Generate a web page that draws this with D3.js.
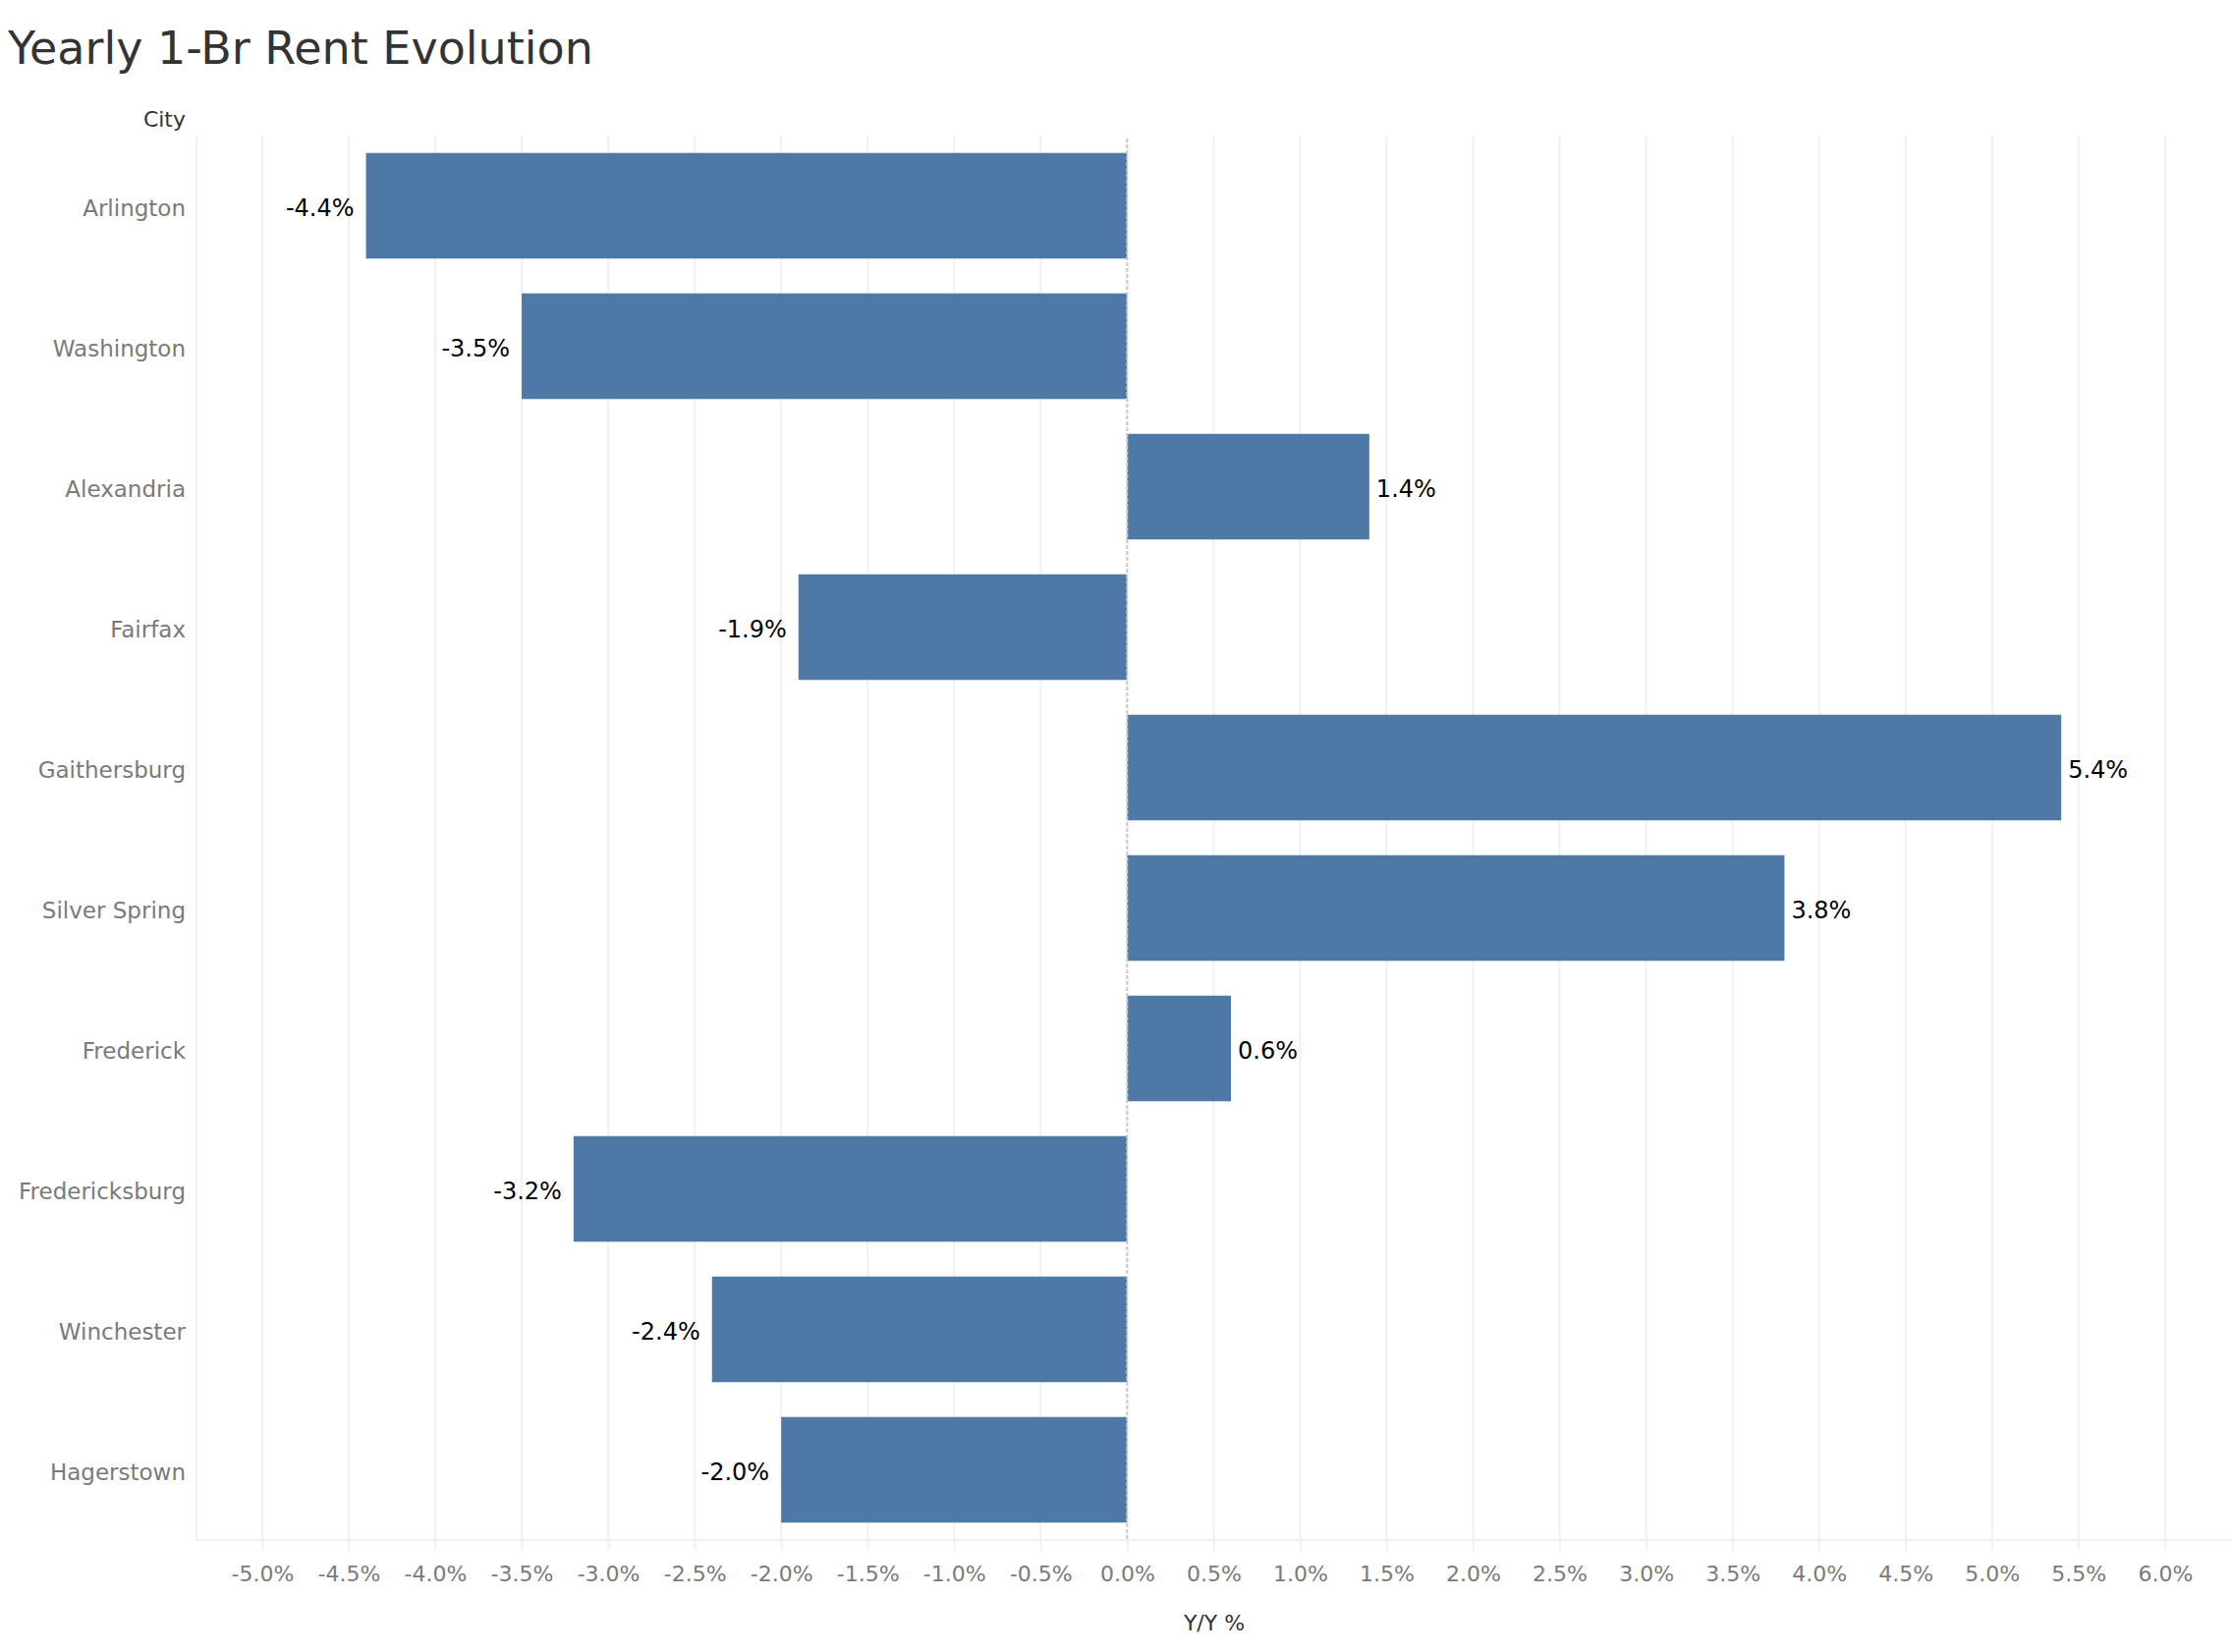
<!DOCTYPE html>
<html>
<head>
<meta charset="utf-8">
<script src="https://cdn.jsdelivr.net/npm/d3@7"></script>
<style>
  html, body { margin: 0; padding: 0; background: #fff; }
  svg { display: block; font-family: "DejaVu Sans", sans-serif; }
</style>
</head>
<body>
<svg id="chart" width="2272" height="1682"></svg>
<script>
// ---- Data ----
const cities = ["Arlington", "Washington", "Alexandria", "Fairfax", "Gaithersburg",
                "Silver Spring", "Frederick", "Fredericksburg", "Winchester", "Hagerstown"];
const yoyValues = [-4.4, -3.5, 1.4, -1.9, 5.4, 3.8, 0.6, -3.2, -2.4, -2.0];
const tickValues = [-5.0, -4.5, -4.0, -3.5, -3.0, -2.5, -2.0, -1.5, -1.0, -0.5, 0.0,
                    0.5, 1.0, 1.5, 2.0, 2.5, 3.0, 3.5, 4.0, 4.5, 5.0, 5.5, 6.0];
const titleText = "Yearly 1-Br Rent Evolution";
const rowHeader = "City";
const xTitle = "Y/Y %";

// ---- Layout ----
const W = 2272, H = 1682;
const plot = { left: 200, right: 2272, top: 138, bottom: 1568 };
const svg = d3.select("#chart");

const x = d3.scaleLinear().domain([-5.38, 6.387]).range([plot.left, plot.right]);
const y = d3.scaleBand().domain(cities).range([plot.top, plot.bottom])
  .paddingInner(0.248).paddingOuter(0.124);

const data = cities.map((c, i) => ({ city: c, value: yoyValues[i] }));

// Title
svg.append("text").attr("x", 8).attr("y", 65)
  .attr("font-size", 46).attr("fill", "#333").text(titleText);

// Row header
svg.append("text").attr("x", 189).attr("y", 129).attr("text-anchor", "end")
  .attr("font-size", 22).attr("fill", "#333").text(rowHeader);

// Gridlines
svg.append("g").selectAll("line").data(tickValues.filter(d => d !== 0)).join("line")
  .attr("x1", d => x(d)).attr("x2", d => x(d))
  .attr("y1", plot.top).attr("y2", plot.bottom)
  .attr("stroke", "#f0f0f0").attr("stroke-width", 2);

// Left border of pane
svg.append("line").attr("x1", plot.left).attr("x2", plot.left)
  .attr("y1", plot.top).attr("y2", plot.bottom)
  .attr("stroke", "#f0f0f0").attr("stroke-width", 2);

// Bars
svg.append("g").selectAll("rect").data(data).join("rect")
  .attr("x", d => x(Math.min(0, d.value)))
  .attr("width", d => Math.abs(x(d.value) - x(0)))
  .attr("y", d => y(d.city))
  .attr("height", y.bandwidth())
  .attr("fill", "#4e79a7");

// Zero line (dashed)
svg.append("line").attr("x1", x(0)).attr("x2", x(0))
  .attr("y1", plot.top + 3).attr("y2", plot.bottom)
  .attr("stroke", "#c8c8c8").attr("stroke-width", 2)
  .attr("stroke-dasharray", "4,2");

// Value labels
svg.append("g").selectAll("text").data(data).join("text")
  .attr("x", d => d.value >= 0 ? x(d.value) + 7 : x(d.value) - 12)
  .attr("y", d => y(d.city) + y.bandwidth() / 2 + 10)
  .attr("text-anchor", d => d.value >= 0 ? "start" : "end")
  .attr("font-size", 24).attr("fill", "#000")
  .text(d => d.value.toFixed(1) + "%");

// Y axis (city labels)
const yAxis = svg.append("g").attr("transform", `translate(${plot.left},0)`)
  .call(d3.axisLeft(y).tickSize(0).tickPadding(11));
yAxis.select(".domain").remove();
yAxis.selectAll("text").attr("dy", null).attr("y", 10.5)
  .attr("font-size", 23).attr("font-family", "DejaVu Sans, sans-serif").attr("fill", "#7a7a7a");

// X axis
const xAxis = svg.append("g").attr("transform", `translate(0,${plot.bottom})`)
  .call(d3.axisBottom(x).tickValues(tickValues)
    .tickFormat(d => d.toFixed(1) + "%").tickSize(10).tickSizeOuter(0));
xAxis.select(".domain").attr("stroke", "#f0f0f0").attr("stroke-width", 2)
  .attr("d", `M${plot.left},0H${plot.right}`);
xAxis.selectAll(".tick line").attr("stroke", "#f0f0f0").attr("stroke-width", 2);
xAxis.selectAll("text").attr("dy", null).attr("y", 42)
  .attr("font-size", 22).attr("font-family", "DejaVu Sans, sans-serif").attr("fill", "#7a7a7a");

// X axis title
svg.append("text").attr("x", (plot.left + plot.right) / 2).attr("y", 1660)
  .attr("text-anchor", "middle").attr("font-size", 22).attr("fill", "#333")
  .text(xTitle);
</script>
</body>
</html>
